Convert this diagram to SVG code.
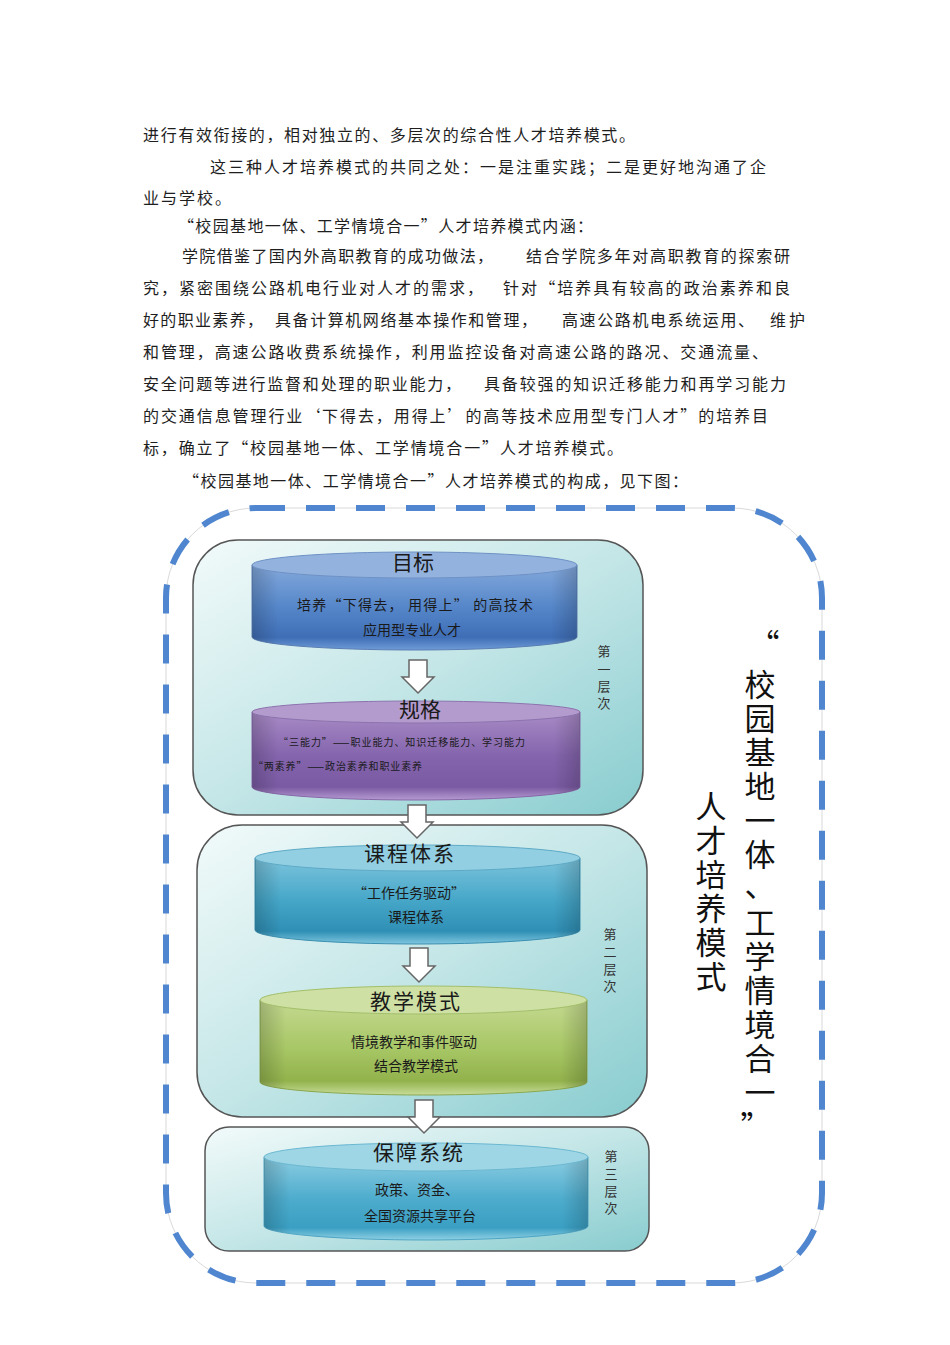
<svg xmlns="http://www.w3.org/2000/svg" width="950" height="1345" viewBox="0 0 950 1345">
<defs>
<style>
.p{font-family:"Noto Sans CJK SC","Noto Sans",sans-serif;font-size:16px;fill:#1e1e1e}
.t{font-family:"Noto Sans CJK SC",sans-serif;font-size:21px;fill:#1a1a1a;text-anchor:middle}
.b{font-family:"Noto Sans CJK SC",sans-serif;font-size:14px;fill:#1a1a1a;text-anchor:middle}
.s{font-family:"Noto Sans CJK SC",sans-serif;font-size:10px;fill:#1a1a1a}
.side{font-family:"Noto Sans CJK SC",sans-serif;font-size:13px;fill:#333;writing-mode:vertical-rl;letter-spacing:4.3px}
.big{font-family:"Noto Sans CJK SC",sans-serif;font-size:31px;fill:#111;writing-mode:vertical-rl;letter-spacing:3px}
.q{font-family:"Noto Sans CJK SC",sans-serif;font-size:31px;fill:#111;text-anchor:middle}
.panel{fill:url(#gPanel);stroke:#555;stroke-width:1.5}
.arr{fill:#fff;stroke:#666;stroke-width:1.5;stroke-linejoin:miter}
.edge{fill:url(#gEdge)}
</style>
<linearGradient id="gPanel" x1="0" y1="0" x2="1" y2="1">
<stop offset="0" stop-color="#f2fafa"/><stop offset="0.5" stop-color="#c4e6e7"/><stop offset="1" stop-color="#88cccf"/>
</linearGradient>
<linearGradient id="gEdge" x1="0" y1="0" x2="1" y2="0">
<stop offset="0" stop-color="#000" stop-opacity="0.18"/><stop offset="0.08" stop-color="#000" stop-opacity="0"/><stop offset="0.92" stop-color="#000" stop-opacity="0"/><stop offset="1" stop-color="#000" stop-opacity="0.18"/>
</linearGradient>
<linearGradient id="gBlue" x1="0" y1="0" x2="0" y2="1">
<stop offset="0" stop-color="#84a9dc"/><stop offset="0.5" stop-color="#5586c9"/><stop offset="0.85" stop-color="#3f6eb6"/><stop offset="1" stop-color="#6f9bd6"/>
</linearGradient>
<linearGradient id="gPurple" x1="0" y1="0" x2="0" y2="1">
<stop offset="0" stop-color="#a88bc6"/><stop offset="0.5" stop-color="#8464ad"/><stop offset="0.85" stop-color="#7a5aa3"/><stop offset="1" stop-color="#b59ad0"/>
</linearGradient>
<linearGradient id="gTeal" x1="0" y1="0" x2="0" y2="1">
<stop offset="0" stop-color="#7cc4dc"/><stop offset="0.5" stop-color="#45a6c8"/><stop offset="0.85" stop-color="#2f8fb5"/><stop offset="1" stop-color="#7ec6de"/>
</linearGradient>
<linearGradient id="gGreen" x1="0" y1="0" x2="0" y2="1">
<stop offset="0" stop-color="#c4d990"/><stop offset="0.5" stop-color="#a8c766"/><stop offset="0.85" stop-color="#92b24c"/><stop offset="1" stop-color="#c8dc98"/>
</linearGradient>
<linearGradient id="gTeal2" x1="0" y1="0" x2="0" y2="1">
<stop offset="0" stop-color="#8ccde2"/><stop offset="0.5" stop-color="#4eaccd"/><stop offset="0.85" stop-color="#3a9fc3"/><stop offset="1" stop-color="#8fd0e3"/>
</linearGradient>
</defs>

<g id="paragraph">
<text class="p" x="143" y="141" textLength="492" lengthAdjust="spacing">进行有效衔接的，相对独立的、多层次的综合性人才培养模式。</text>
<text class="p" x="210" y="173" textLength="556" lengthAdjust="spacing">这三种人才培养模式的共同之处：一是注重实践；二是更好地沟通了企</text>
<text class="p" x="143" y="204" textLength="88" lengthAdjust="spacing">业与学校。</text>
<text class="p" x="178" y="232" textLength="415" lengthAdjust="spacing">“校园基地一体、工学情境合一”人才培养模式内涵：</text>
<text class="p" x="182" y="262" textLength="311" lengthAdjust="spacing">学院借鉴了国内外高职教育的成功做法，</text>
<text class="p" x="526" y="262" textLength="264" lengthAdjust="spacing">结合学院多年对高职教育的探索研</text>
<text class="p" x="143" y="294" textLength="340" lengthAdjust="spacing">究，紧密围绕公路机电行业对人才的需求，</text>
<text class="p" x="503" y="294" textLength="287" lengthAdjust="spacing">针对“培养具有较高的政治素养和良</text>
<text class="p" x="143" y="326" textLength="120" lengthAdjust="spacing">好的职业素养，</text>
<text class="p" x="275" y="326" textLength="262" lengthAdjust="spacing">具备计算机网络基本操作和管理，</text>
<text class="p" x="562" y="326" textLength="192" lengthAdjust="spacing">高速公路机电系统运用、</text>
<text class="p" x="770" y="326" textLength="35" lengthAdjust="spacing">维护</text>
<text class="p" x="143" y="358" textLength="625" lengthAdjust="spacing">和管理，高速公路收费系统操作，利用监控设备对高速公路的路况、交通流量、</text>
<text class="p" x="143" y="390" textLength="318" lengthAdjust="spacing">安全问题等进行监督和处理的职业能力，</text>
<text class="p" x="484" y="390" textLength="302" lengthAdjust="spacing">具备较强的知识迁移能力和再学习能力</text>
<text class="p" x="143" y="422" textLength="625" lengthAdjust="spacing">的交通信息管理行业‘下得去，用得上’的高等技术应用型专门人才”的培养目</text>
<text class="p" x="143" y="454" textLength="480" lengthAdjust="spacing">标，确立了“校园基地一体、工学情境合一”人才培养模式。</text>
<text class="p" x="183" y="487" textLength="505" lengthAdjust="spacing">“校园基地一体、工学情境合一”人才培养模式的构成，见下图：</text>
</g>

<g id="outer-frame">
<rect x="166" y="508" width="656" height="775" rx="90" ry="90" fill="none" stroke="#cfcfcf" stroke-width="0.8"/>
<rect x="166" y="508" width="656" height="775" rx="90" ry="90" fill="none" stroke="#4f86cf" stroke-width="6" stroke-dasharray="29 21"/>
</g>

<g id="panel1">
<rect class="panel" x="193" y="540" width="450" height="275" rx="45"/>
<text class="side" x="604" y="645">第一层次</text>
</g>
<g id="panel2">
<rect class="panel" x="197" y="825" width="450" height="292" rx="45"/>
<text class="side" x="610" y="928">第二层次</text>
</g>
<g id="panel3">
<rect class="panel" x="205" y="1127" width="444" height="124" rx="24"/>
<text class="side" x="611" y="1150">第三层次</text>
</g>

<g id="goal">
<path d="M252 565 V637 A162.5 13 0 0 0 577 637 V565 Z" fill="url(#gBlue)" stroke="#5b7fb4" stroke-width="1"/>
<path d="M252 565 V637 A162.5 13 0 0 0 577 637 V565 Z" class="edge"/>
<ellipse cx="414.5" cy="565" rx="162.5" ry="13" fill="#93b3de" stroke="#6f92c6" stroke-width="1"/>
<text class="t" x="413" y="570">目标</text>
<text class="b" x="415" y="610" textLength="236" lengthAdjust="spacing">培养“下得去，  用得上” 的高技术</text>
<text class="b" x="412" y="635">应用型专业人才</text>
</g>

<g id="spec">
<path d="M252 712 V787 A164 13 0 0 0 580 787 V712 Z" fill="url(#gPurple)" stroke="#8668a8" stroke-width="1"/>
<path d="M252 712 V787 A164 13 0 0 0 580 787 V712 Z" class="edge"/>
<ellipse cx="416" cy="712" rx="164" ry="11" fill="#b49bcd" stroke="#8d73ae" stroke-width="1"/>
<text class="t" x="420" y="717">规格</text>
<text class="s" x="278" y="746" textLength="247" lengthAdjust="spacing">“三能力”——职业能力、知识迁移能力、学习能力</text>
<text class="s" x="253" y="770" textLength="169" lengthAdjust="spacing">“两素养”——政治素养和职业素养</text>
</g>

<g id="course">
<path d="M255 858 V930 A162.5 14 0 0 0 580 930 V858 Z" fill="url(#gTeal)" stroke="#3b8fb0" stroke-width="1"/>
<path d="M255 858 V930 A162.5 14 0 0 0 580 930 V858 Z" class="edge"/>
<ellipse cx="417.5" cy="858" rx="162.5" ry="13" fill="#93cfe2" stroke="#5eaac6" stroke-width="1"/>
<text class="t" x="410" y="861" letter-spacing="2">课程体系</text>
<text class="b" x="409" y="898">“工作任务驱动”</text>
<text class="b" x="416" y="922">课程体系</text>
</g>

<g id="teaching">
<path d="M260 1000 V1082 A163.5 13 0 0 0 587 1082 V1000 Z" fill="url(#gGreen)" stroke="#8aa84e" stroke-width="1"/>
<path d="M260 1000 V1082 A163.5 13 0 0 0 587 1082 V1000 Z" class="edge"/>
<ellipse cx="423.5" cy="1000" rx="163.5" ry="14" fill="#cfe0a4" stroke="#a3bf6a" stroke-width="1"/>
<text class="t" x="416" y="1009" letter-spacing="2">教学模式</text>
<text class="b" x="414" y="1047" font-size="14.5">情境教学和事件驱动</text>
<text class="b" x="416" y="1071" font-size="14.5">结合教学模式</text>
</g>

<g id="support">
<path d="M264 1157 V1226 A162 14 0 0 0 588 1226 V1157 Z" fill="url(#gTeal2)" stroke="#4fa5c4" stroke-width="1"/>
<path d="M264 1157 V1226 A162 14 0 0 0 588 1226 V1157 Z" class="edge"/>
<ellipse cx="426" cy="1157" rx="162" ry="14" fill="#9fd6e6" stroke="#6bb8d1" stroke-width="1"/>
<text class="t" x="419" y="1160" letter-spacing="2">保障系统</text>
<text class="b" x="417" y="1195">政策、资金、</text>
<text class="b" x="420" y="1221" font-size="14.5">全国资源共享平台</text>
</g>

<g id="title-vertical">
<text class="q" x="764" y="656">“</text>
<text class="big" x="760" y="669">校园基地一体</text>
<text class="q" x="760" y="897">、</text>
<text class="big" x="760" y="907">工学情境合一</text>
<text class="q" x="756" y="1138">”</text>
<text class="big" x="711" y="791">人才培养模式</text>
</g>

<g id="connectors">
<path class="arr" d="M409 660 H427 V677 H434 L418 693 L402 677 H409 Z"/>
<path class="arr" d="M408 805 H426 V822 H433 L417 838 L401 822 H408 Z"/>
<path class="arr" d="M410 948 H428 V966 H435 L419 982 L403 966 H410 Z"/>
<path class="arr" d="M415 1100 H433 V1117 H440 L424 1133 L408 1117 H415 Z"/>
</g>
</svg>
